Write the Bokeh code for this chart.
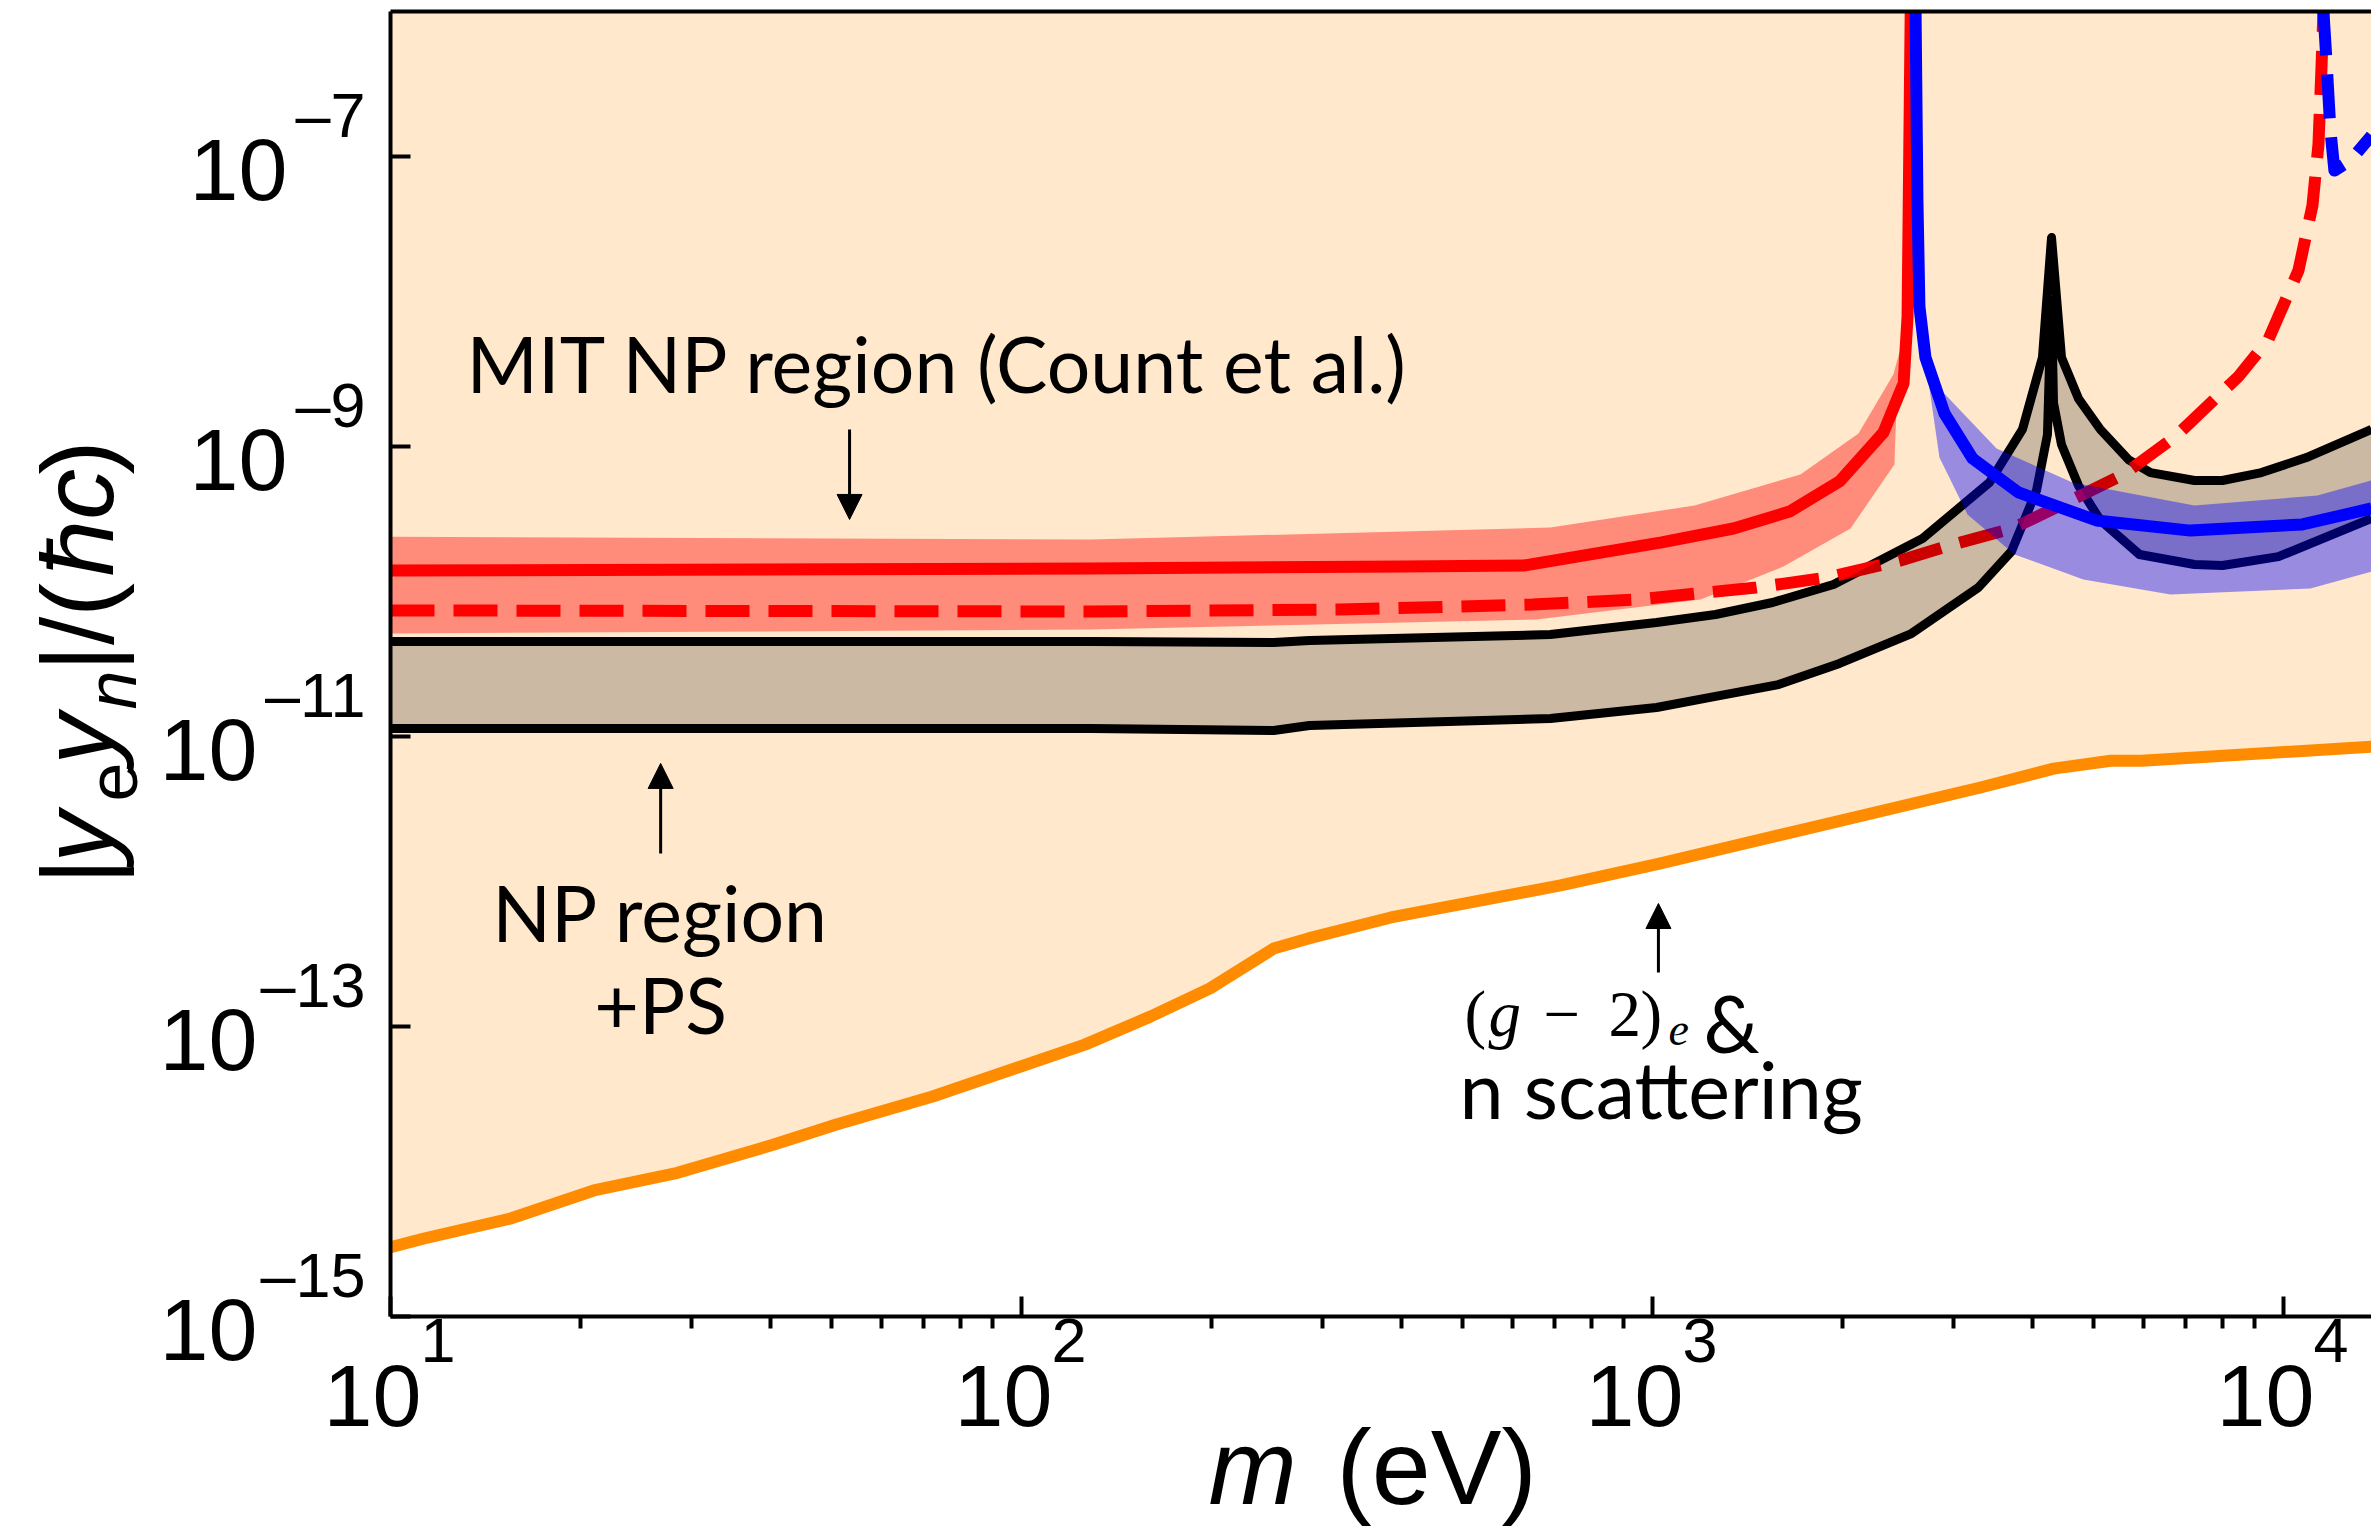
import math

from bokeh.embed import file_html
from bokeh.models import Arrow, FixedTicker, Label, LogAxis, NormalHead
from bokeh.plotting import figure
from bokeh.resources import INLINE

# ---------------------------------------------------------------- data
# (g-2)_e & neutron scattering bound (orange); everything above it is shaded
bound_m = [10, 11.3, 15.5, 21.0, 28.5, 40.4, 50.9, 72.3, 126, 160, 199, 251, 285,
           385, 715, 1026, 1900, 3311, 4323, 5325, 5960, 13790]
bound_y = [3.0e-15, 3.45e-15, 4.74e-15, 7.4e-15, 9.8e-15, 1.53e-14, 2.11e-14, 3.29e-14,
           7.5e-14, 1.17e-13, 1.83e-13, 3.45e-13, 4.05e-13, 5.65e-13, 9.4e-13, 1.33e-12,
           2.51e-12, 4.45e-12, 6.0e-12, 6.8e-12, 6.8e-12, 8.5e-12]

# NP region + PS band (black edges, tan fill)
np_hi_m = [10, 129, 251, 286, 689, 1015, 1259, 1550, 1936, 2679, 3420, 3858, 4150, 4290,
           4449, 4733, 5128, 5679, 6156, 7228, 8004, 9230, 10875, 13790]
np_hi_y = [4.52e-11, 4.52e-11, 4.45e-11, 4.59e-11, 5.05e-11, 6.11e-11, 6.94e-11, 8.40e-11,
           1.117e-10, 2.32e-10, 5.64e-10, 1.31e-9, 4.11e-9, 2.76e-8, 4.11e-9, 2.14e-9,
           1.31e-9, 8.13e-10, 6.61e-10, 5.83e-10, 5.83e-10, 6.61e-10, 8.39e-10, 1.31e-9]
np_lo_m = [10, 129, 251, 286, 689, 1015, 1259, 1584, 1979, 2573, 3285, 3706, 4061, 4227,
           4273, 4290, 4321, 4449, 4733, 5128, 5914, 7228, 8004, 9820, 13790]
np_lo_y = [1.136e-11, 1.136e-11, 1.10e-11, 1.19e-11, 1.33e-11, 1.585e-11, 1.89e-11,
           2.28e-11, 3.19e-11, 5.13e-11, 1.066e-10, 1.89e-10, 4.97e-10, 1.21e-9, 6.11e-9,
           1.016e-8, 2.0e-9, 1.03e-9, 5.38e-10, 3.09e-10, 1.80e-10, 1.536e-10, 1.51e-10,
           1.74e-10, 3.19e-10]

# MIT NP region (Count et al.): central line and its band
mit_m = [10, 128.7, 401.6, 624.8, 1034, 1344, 1649, 1979, 2323, 2500, 2537, 2566]
mit_y = [1.395e-10, 1.44e-10, 1.487e-10, 1.51e-10, 2.18e-10, 2.72e-10, 3.56e-10,
         5.74e-10, 1.25e-9, 2.72e-9, 7.88e-9, 1e-6]
mit_hi_m = [10, 128.7, 689, 1166, 1716, 2121, 2409, 2481, 2526]
mit_hi_y = [2.39e-10, 2.28e-10, 2.76e-10, 3.92e-10, 6.41e-10, 1.23e-9, 3.14e-9, 5.05e-9,
            1.016e-8]
mit_lo_m = [10, 128.7, 655, 1192, 1613, 2060, 2418, 2445, 2526]
mit_lo_y = [5.13e-11, 5.47e-11, 6.41e-11, 8.81e-11, 1.487e-10, 2.72e-10, 7.51e-10,
            2.85e-9, 1.016e-8]

# red dashed curve
rdash_m = [10, 128.7, 320.3, 645.3, 946.6, 1461, 1894, 2472, 2956, 3720, 4631, 5578,
           6743, 8487, 9467, 10563, 11117, 11363, 11487, 11571]
rdash_y = [7.40e-11, 7.28e-11, 7.51e-11, 8.13e-11, 8.81e-11, 1.066e-10, 1.249e-10,
           1.636e-10, 2.076e-10, 2.72e-10, 4.31e-10, 6.41e-10, 1.172e-9, 3.04e-9,
           5.47e-9, 1.636e-8, 4.59e-8, 1.21e-7, 3.98e-7, 1e-6]

# blue curve and band
blue_m = [2612, 2630, 2649, 2708, 2903, 3216, 3803, 5054, 7122, 10718, 13790]
blue_y = [1e-6, 4.97e-8, 9.23e-9, 4.11e-9, 1.69e-9, 8.26e-10, 4.82e-10, 3.09e-10,
          2.63e-10, 2.90e-10, 3.74e-10]
blue_hi_m = [2649, 2708, 2850, 3510, 4631, 7228, 11323, 13790]
blue_hi_y = [9.23e-9, 5.21e-9, 2.51e-9, 9.69e-10, 5.64e-10, 3.92e-10, 4.59e-10, 5.83e-10]
blue_lo_m = [2708, 2850, 3157, 3748, 4820, 6622, 11036, 13790]
blue_lo_y = [3.92e-9, 8.39e-10, 3.40e-10, 1.80e-10, 1.21e-10, 9.53e-11, 1.049e-10,
             1.373e-10]

# blue dashed curve
bdash_m = [11571, 11700, 11871, 12045, 12770, 13790]
bdash_y = [1e-6, 4.59e-7, 1.51e-7, 8.0e-8, 9.38e-8, 1.395e-7]

# axis ticks
x_decades = [1, 2, 3, 4]
y_decades = [-15, -13, -11, -9, -7]

# ---------------------------------------------------------------- layout
W, H = 2371, 1527
BOX_L, BOX_T, BOX_B = 390, 11, 1316       # plot box edges on the page (px)
BOX_X = (10, 13790)                        # m range of the plot box
BOX_Y = (1e-15, 1e-6)                      # coupling range of the plot box

# the drawing frame fills the page; widen the ranges so the box sits where wanted
lx0, lx1 = math.log10(BOX_X[0]), math.log10(BOX_X[1])
ly0, ly1 = math.log10(BOX_Y[0]), math.log10(BOX_Y[1])
ppx = (W - BOX_L) / (lx1 - lx0)
ppy = (BOX_B - BOX_T) / (ly1 - ly0)
x_range = (10 ** (lx0 - BOX_L / ppx), 10 ** lx1)
y_range = (10 ** (ly0 - (H - BOX_B) / ppy), 10 ** (ly1 + BOX_T / ppy))

p = figure(width=W, height=H, x_axis_type="log", y_axis_type="log",
           x_range=x_range, y_range=y_range, output_backend="svg",
           toolbar_location=None, min_border=0)
p.min_border_left = p.min_border_right = p.min_border_top = p.min_border_bottom = 0
p.outline_line_color = None
p.xgrid.visible = False
p.ygrid.visible = False
p.background_fill_color = "white"
p.border_fill_color = "white"

x_major = [10.0 ** d for d in x_decades]
x_minor = [k * 10.0 ** d for d in x_decades for k in range(2, 10)
           if k * 10.0 ** d < BOX_X[1]]
y_major = [10.0 ** e for e in y_decades]

xa = p.xaxis[0]
xa.fixed_location = BOX_Y[0]
xa.bounds = BOX_X
xa.ticker = FixedTicker(ticks=x_major, minor_ticks=x_minor)
xa.major_label_overrides = {t: "" for t in x_major}
xa.major_tick_in, xa.major_tick_out = 20, 0
xa.minor_tick_in, xa.minor_tick_out = 0, 12
ya = p.yaxis[0]
ya.fixed_location = BOX_X[0]
ya.bounds = BOX_Y
ya.ticker = FixedTicker(ticks=y_major, minor_ticks=[])
ya.major_label_overrides = {t: "" for t in y_major}
ya.major_tick_in, ya.major_tick_out = 20, 0
ya.minor_tick_in, ya.minor_tick_out = 0, 0
for ax in (xa, ya):
    ax.axis_line_width = 4
    ax.major_tick_line_width = 4
    ax.minor_tick_line_width = 4
    ax.major_label_standoff = 0

top = LogAxis(ticker=FixedTicker(ticks=[], minor_ticks=[]), axis_line_width=4,
              fixed_location=BOX_Y[1], bounds=BOX_X, major_label_standoff=0)
p.add_layout(top, "above")

# ---------------------------------------------------------------- marks
p.varea(x=bound_m, y1=bound_y, y2=BOX_Y[1], fill_color="darkorange", fill_alpha=0.2)
p.line(bound_m, bound_y, line_color="darkorange", line_width=12, line_join="round")

p.patch(mit_hi_m + mit_lo_m[::-1], mit_hi_y + mit_lo_y[::-1],
        fill_color="red", fill_alpha=0.4, line_color=None)
p.line(mit_m, mit_y, line_color="red", line_width=12, line_join="round")

p.line(np_hi_m, np_hi_y, line_color="black", line_width=9, line_join="round")
p.line(np_lo_m, np_lo_y, line_color="black", line_width=9, line_join="round")

p.line(rdash_m, rdash_y, line_color="red", line_width=12, line_dash="44 19")

p.patch(np_hi_m + np_lo_m[::-1], np_hi_y + np_lo_y[::-1],
        fill_color="black", fill_alpha=0.2, line_color=None)

p.patch(blue_hi_m + blue_lo_m[::-1], blue_hi_y + blue_lo_y[::-1],
        fill_color="blue", fill_alpha=0.4, line_color=None)
p.line(blue_m, blue_y, line_color="blue", line_width=12, line_join="round")
p.line(bdash_m, bdash_y, line_color="blue", line_width=12, line_dash="44 19",
       line_join="round")

# ---------------------------------------------------------------- text helpers
SANS = "Liberation Sans"
NOTE = "Lato"
SERIF = "Liberation Serif"
BASE_FIX = 0.36   # lifts glyphs so the anchor sits on the alphabetic baseline


def put(text, x, y, dx=0, dy=0, size=88, font=SANS, style="normal", align="left",
        angle=0.0):
    lift = BASE_FIX * size
    if angle:
        dx -= lift
    else:
        dy += lift
    p.add_layout(Label(x=x, y=y, x_units="data", y_units="data", x_offset=dx,
                       y_offset=dy, text=text, text_font=font,
                       text_font_size=f"{size}px", text_font_style=style,
                       text_align=align, text_baseline="alphabetic", angle=angle,
                       text_color="black"))


# tick labels: "10" with a raised exponent
for d in x_decades:
    put("10", 10.0 ** d, BOX_Y[0], dx=31, dy=-111, size=88, align="right")
    put(str(d), 10.0 ** d, BOX_Y[0], dx=30, dy=-47, size=63, align="left")
for e in y_decades:
    expo = "\u2013" + str(-e)
    put(expo, BOX_X[0], 10.0 ** e, dx=-25, dy=19, size=63, align="right")
    put("10", BOX_X[0], 10.0 ** e, dx=-(73 + 30 * len(str(-e))), dy=-45, size=88,
        align="right")

# x axis title: m (eV)
put("m", BOX_X[0], BOX_Y[0], dx=818, dy=-189, size=106, style="italic")
put("(eV)", BOX_X[0], BOX_Y[0], dx=946, dy=-189, size=106)

# y axis title: |y_e y_n|/(hbar c), set piece by piece
mid_y = math.sqrt(BOX_Y[0] * BOX_Y[1])
ylab = [("|", "normal", 102, -276, -220.5),
        ("y", "italic", 102, -276, -198.5),
        ("e", "normal", 70, -253, -137.5),
        ("y", "italic", 102, -276, -100.5),
        ("n", "italic", 70, -253, -45.5),
        ("|/(", "normal", 102, -276, -7.5),
        ("\u0127c", "italic", 102, -276, 87.5),
        (")", "normal", 102, -276, 189.5)]
for txt, sty, sz, dx, dy in ylab:
    put(txt, BOX_X[0], mid_y, dx=dx, dy=dy, size=sz, style=sty, angle=math.pi / 2)

# annotations
put("MIT NP region (Count et al.)", 13.2, 2.43e-9, size=77, font=NOTE)
put("NP region", 26.8, 3.98e-13, size=77, font=NOTE, align="center")
put("+PS", 26.8, 9.24e-14, size=77, font=NOTE, align="center")
put("n scattering", 494.5, 2.36e-14, size=79, font=NOTE)

gx, gy = 503.6, 8.39e-14
put("(", gx, gy, dx=0, size=65, font=SERIF)
put("g", gx, gy, dx=24, size=65, font=SERIF, style="italic")
put("\u2212", gx, gy, dx=79, size=65, font=SERIF)
put("2", gx, gy, dx=144, size=65, font=SERIF)
put(")", gx, gy, dx=176, size=65, font=SERIF)
put("e", gx, gy, dx=204, dy=-9, size=46, font=SERIF, style="italic")
put("&", gx, gy, dx=239, dy=-13, size=79, font=NOTE)

for x0, y0, y1 in [(53.4, 1.31e-9, 3.14e-10), (26.8, 1.56e-12, 6.52e-12),
                   (1022, 2.36e-13, 7.05e-13)]:
    p.add_layout(Arrow(x_start=x0, y_start=y0, x_end=x0, y_end=y1, line_width=3,
                       line_color="black",
                       end=NormalHead(size=25, fill_color="black", line_color="black",
                                      line_width=1)))

open("out.html", "w").write(file_html(p, INLINE))
